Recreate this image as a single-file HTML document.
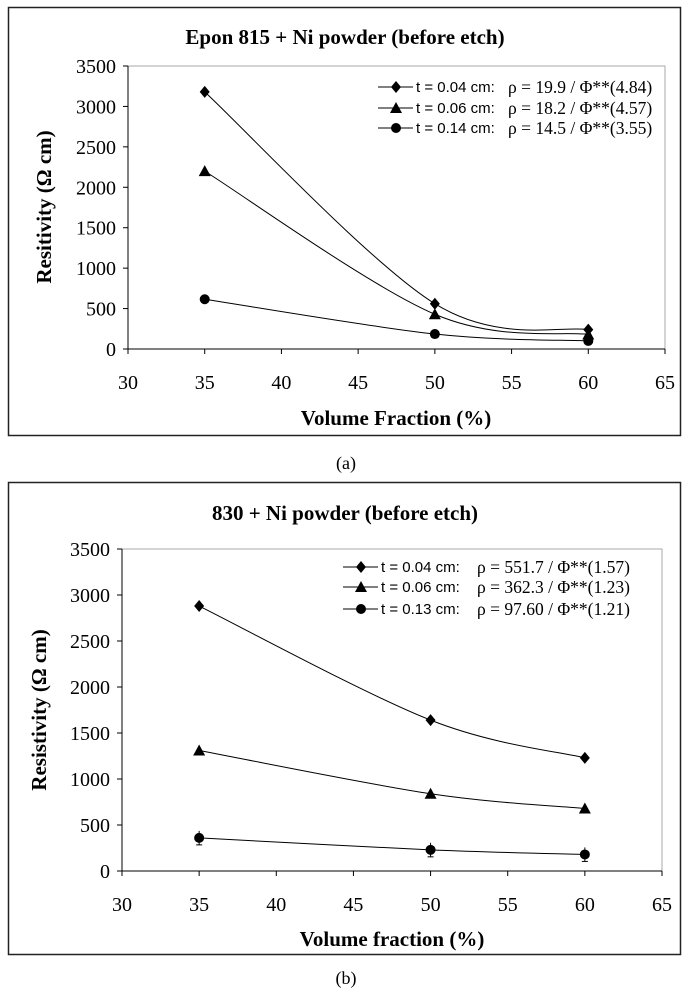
<!DOCTYPE html>
<html><head><meta charset="utf-8"><style>
body{margin:0;background:#fff;}
svg{display:block;}
.serif{font-family:"Liberation Serif",serif;}
.sans{font-family:"Liberation Sans",sans-serif;}
</style></head><body>
<svg id="fig" width="689" height="1000" xmlns="http://www.w3.org/2000/svg">
<rect x="8.5" y="7.5" width="672" height="428" fill="none" stroke="#222" stroke-width="1.5"/>
<rect x="8.5" y="482.5" width="672" height="472" fill="none" stroke="#222" stroke-width="1.5"/>
<text x="346" y="469" text-anchor="middle" class="serif" font-size="18">(a)</text>
<text x="346" y="984" text-anchor="middle" class="serif" font-size="18">(b)</text>
</svg>
<script>
const xTicks=[30,35,40,45,50,55,60,65];
const yTicks=[0,500,1000,1500,2000,2500,3000,3500];
const xValues=[35,50,60];
const aSeries1=[3180,560,240];
const aSeries2=[2200,430,180];
const aSeries3=[615,185,100];
const bSeries1=[2880,1640,1230];
const bSeries2=[1310,840,680];
const bSeries3=[360,230,180];
const aLegend=[["t = 0.04 cm:","ρ = 19.9 / Φ**(4.84)"],["t = 0.06 cm:","ρ = 18.2 / Φ**(4.57)"],["t = 0.14 cm:","ρ = 14.5 / Φ**(3.55)"]];
const bLegend=[["t = 0.04 cm:","ρ = 551.7 / Φ**(1.57)"],["t = 0.06 cm:","ρ = 362.3 / Φ**(1.23)"],["t = 0.13 cm:","ρ = 97.60 / Φ**(1.21)"]];
const NS="http://www.w3.org/2000/svg";
const svg=document.getElementById('fig');
function mk(tag,attrs,parent){const e=document.createElementNS(NS,tag);for(const k in attrs)e.setAttribute(k,attrs[k]);(parent||svg).appendChild(e);return e;}
function marker(g,kind,x,y){
  let m;
  if(kind===0)m=mk('polygon',{points:`${x},${y-6} ${x+5},${y} ${x},${y+6} ${x-5},${y}`,fill:'#000'},g);
  else if(kind===1)m=mk('polygon',{points:`${x},${y-6} ${x+6},${y+5} ${x-6},${y+5}`,fill:'#000'},g);
  else m=mk('circle',{cx:x,cy:y,r:5,fill:'#000'},g);
  
  
}
function smooth(pts){
  let d=`M${pts[0][0]},${pts[0][1]}`;
  for(let i=0;i<pts.length-1;i++){
    const p0=pts[i-1]||pts[i],p1=pts[i],p2=pts[i+1],p3=pts[i+2]||p2;
    const t=1/3;
    const c1=[p1[0]+(p2[0]-p0[0])*t/2,p1[1]+(p2[1]-p0[1])*t/2];
    const c2=[p2[0]-(p3[0]-p1[0])*t/2,p2[1]-(p3[1]-p1[1])*t/2];
    d+=` C${c1[0]},${c1[1]} ${c2[0]},${c2[1]} ${p2[0]},${p2[1]}`;
  }
  return d;
}
function chart(cfg){
  const g=mk('g',{});
  
  
  const X=v=>cfg.x0+(v-30)/35*(cfg.x1-cfg.x0);
  const Y=v=>cfg.y0-v/3500*(cfg.y0-cfg.y1);
  const t=mk('text',{x:345,y:cfg.titleY,'text-anchor':'middle','font-size':21,'font-weight':'bold',class:'serif'},g);t.textContent=cfg.title;
  
  const pb=mk('polyline',{points:`${cfg.x0},${cfg.y1} ${cfg.x1},${cfg.y1} ${cfg.x1},${cfg.y0}`,fill:'none',stroke:'#aaa','stroke-width':1},g);
  
  const ya=mk('line',{x1:cfg.x0,y1:cfg.y1,x2:cfg.x0,y2:cfg.y0+4,stroke:'#000','stroke-width':1},g);
  
  const xa=mk('line',{x1:cfg.x0-4,y1:cfg.y0,x2:cfg.x1,y2:cfg.y0,stroke:'#000','stroke-width':1},g);
  
  yTicks.forEach(v=>{
    mk('line',{x1:cfg.x0-5,y1:Y(v),x2:cfg.x0,y2:Y(v),stroke:'#000'},g);
    const l=mk('text',{x:cfg.x0-12,y:Y(v)+7,'text-anchor':'end','font-size':20,class:'serif'},g);l.textContent=v;
    
  });
  xTicks.forEach(v=>{
    mk('line',{x1:X(v),y1:cfg.y0,x2:X(v),y2:cfg.y0+5,stroke:'#000'},g);
    const l=mk('text',{x:X(v),y:cfg.xlabY,'text-anchor':'middle','font-size':20,class:'serif'},g);l.textContent=v;
    
  });
  const xt=mk('text',{x:cfg.xtX,y:cfg.xtY,'text-anchor':'middle','font-size':21,'font-weight':'bold',class:'serif'},g);xt.textContent=cfg.xTitle;
  
  const yt=mk('text',{x:0,y:0,transform:`translate(${cfg.ytX},${cfg.ytY}) rotate(-90)`,'text-anchor':'middle','font-size':21,'font-weight':'bold',class:'serif'},g);yt.textContent=cfg.yTitle;
  
  cfg.series.forEach((s,k)=>{
    const pts=xValues.map((xv,i)=>[X(xv),Y(s[i])]);
    const p=mk('path',{d:smooth(pts),fill:'none',stroke:'#000','stroke-width':1},g);
    
    if(cfg.err&&k===2){pts.forEach(q=>{mk('line',{x1:q[0],y1:q[1]-7,x2:q[0],y2:q[1]+7,stroke:'#000'},g);mk('line',{x1:q[0]-3,y1:q[1]+7,x2:q[0]+3,y2:q[1]+7,stroke:'#000'},g);});}
    pts.forEach(q=>marker(g,k,q[0],q[1]));
  });
  cfg.legend.forEach((L,k)=>{
    const y=cfg.legY[k];
    const e=mk('g',{},g);
    
    
    mk('line',{x1:cfg.legX,y1:y,x2:cfg.legX+35,y2:y,stroke:'#000'},e);
    marker(e,k,cfg.legX+18,y);
    const a=mk('text',{x:cfg.legX+38,y:y+5,'font-size':15,class:'sans'},e);a.textContent=L[0];
    const b=mk('text',{x:cfg.legX+cfg.rhoOff,y:y+6,'font-size':17.5,class:'serif'},e);b.textContent=L[1];
  });
}
chart({name:'chart-a',title:'Epon 815 + Ni powder (before etch)',titleY:44,x0:128,x1:665,y0:349,y1:66,xlabY:389,xTitle:'Volume Fraction (%)',xtX:396,xtY:425,yTitle:'Resitivity (Ω cm)',ytX:51,ytY:207,series:[aSeries1,aSeries2,aSeries3],legend:aLegend,legX:378,legY:[87,108,128],rhoOff:130});
chart({name:'chart-b',title:'830 + Ni powder (before etch)',titleY:520,x0:122,x1:662,y0:871,y1:549,xlabY:911,xTitle:'Volume fraction (%)',xtX:392,xtY:946,yTitle:'Resistivity (Ω cm)',ytX:46,ytY:710,series:[bSeries1,bSeries2,bSeries3],legend:bLegend,legX:343,legY:[567,587,609],rhoOff:134,err:true});
</script>
</body></html>
